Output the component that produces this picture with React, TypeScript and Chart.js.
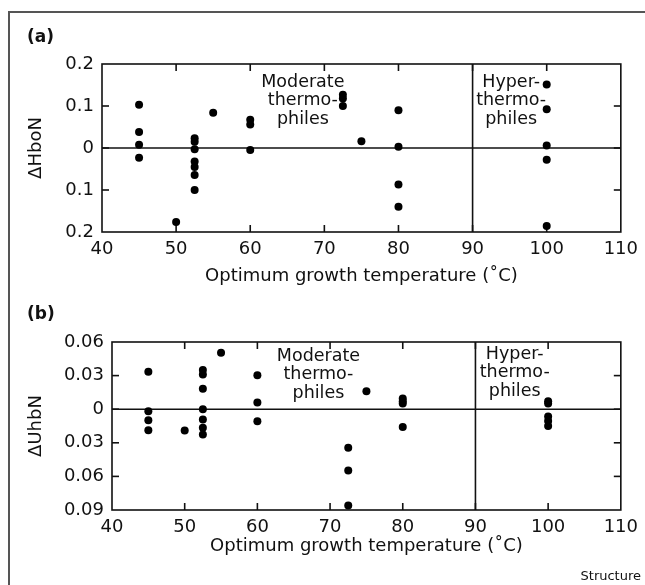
import React, { useEffect, useRef } from "react";
import { Chart, registerables } from "chart.js";

Chart.register(...registerables);

const FONT = "'DejaVu Sans', 'Liberation Sans', sans-serif";

// ---------- Data ----------
const xTicks = [40, 50, 60, 70, 80, 90, 100, 110];

// Panel (a)
const temperatureA = [
  45, 45, 45, 45,
  50,
  52.5, 52.5, 52.5, 52.5, 52.5, 52.5, 52.5,
  55,
  60, 60, 60,
  72.5, 72.5, 72.5,
  75,
  80, 80, 80, 80,
  100, 100, 100, 100, 100,
];
const deltaHboN = [
  0.103, 0.038, 0.008, -0.023,
  -0.176,
  0.023, 0.015, -0.003, -0.032, -0.045, -0.064, -0.1,
  0.084,
  0.067, 0.056, -0.005,
  0.127, 0.118, 0.1,
  0.016,
  0.09, 0.003, -0.087, -0.14,
  0.151, 0.092, 0.006, -0.028, -0.186,
];
const yTicksA = [-0.2, -0.1, 0, 0.1, 0.2];
const yTickLabelsA = ["0.2", "0.1", "0", "0.1", "0.2"];

// Panel (b)
const temperatureB = [
  45, 45, 45, 45,
  50,
  52.5, 52.5, 52.5, 52.5, 52.5, 52.5, 52.5,
  55,
  60, 60, 60,
  72.5, 72.5, 72.5,
  75,
  80, 80, 80, 80,
  100, 100, 100, 100, 100,
];
const deltaUhbN = [
  0.0334, -0.0018, -0.0098, -0.0188,
  -0.019,
  0.035, 0.031, 0.0182, 0.0, -0.0092, -0.0166, -0.0226,
  0.0504,
  0.0303, 0.006, -0.0108,
  -0.0344, -0.0547, -0.0859,
  0.0161,
  0.0096, 0.0072, 0.005, -0.016,
  0.007, 0.005, -0.0065, -0.0105, -0.015,
];
const yTicksB = [-0.09, -0.06, -0.03, 0, 0.03, 0.06];
const yTickLabelsB = ["0.09", "0.06", "0.03", "0", "0.03", "0.06"];

const xTitle = "Optimum growth temperature (\u02DAC)";
const groupLabels = [
  ["Moderate", "thermo-", "philes"],
  ["Hyper-", "thermo-", "philes"],
];

// ---------- Plugin ----------
const decorPlugin = {
  id: "decor",
  beforeDatasetsDraw(chart: any, _args: any, opts: any) {
    const { ctx, chartArea: a, scales } = chart;
    const x = scales.x;
    const y = scales.y;
    ctx.save();
    ctx.strokeStyle = "#111";
    ctx.lineWidth = 1.6;
    const line = (x1: number, y1: number, x2: number, y2: number) => {
      ctx.beginPath();
      ctx.moveTo(x1, y1);
      ctx.lineTo(x2, y2);
      ctx.stroke();
    };
    const TL = 7;
    x.ticks.forEach((t: any) => {
      if (t.value > x.min && t.value < x.max) {
        const px = x.getPixelForValue(t.value);
        line(px, a.top, px, a.top + TL);
        line(px, a.bottom, px, a.bottom - TL);
      }
    });
    y.ticks.forEach((t: any) => {
      if (t.value > y.min && t.value < y.max) {
        const py = y.getPixelForValue(t.value);
        line(a.left, py, a.left + TL, py);
        line(a.right, py, a.right - TL, py);
      }
    });
    const y0 = y.getPixelForValue(0);
    line(a.left, y0, a.right, y0);
    const xd = x.getPixelForValue(opts.divider);
    line(xd, a.top, xd, a.bottom);
    ctx.strokeRect(a.left, a.top, a.right - a.left, a.bottom - a.top);
    ctx.restore();
  },
  afterDraw(chart: any, _args: any, opts: any) {
    const { ctx, scales } = chart;
    const x = scales.x;
    const y = scales.y;
    ctx.save();
    ctx.fillStyle = "#111";
    ctx.textAlign = "center";
    ctx.textBaseline = "middle";
    ctx.font = `17.5px ${FONT}`;
    opts.notes.forEach((n: any) => {
      const px = x.getPixelForValue(n.x);
      const py = y.getPixelForValue(n.y);
      n.lines.forEach((s: string, i: number) => ctx.fillText(s, px, py + i * 18.5));
    });
    ctx.font = `bold 17px ${FONT}`;
    ctx.textAlign = "left";
    ctx.fillText(opts.label, opts.labelX, opts.labelY);
    if (opts.footer) {
      ctx.font = `13px ${FONT}`;
      ctx.textAlign = "right";
      ctx.fillText(opts.footer, chart.width - 4, chart.height - 8);
    }
    ctx.restore();
  },
};

function buildConfig(p: {
  xs: number[];
  ys: number[];
  yTicks: number[];
  yLabels: string[];
  yTitle: string;
  padTop: number;
  padRight: number;
  padBottom: number;
  yWidth: number;
  xHeight: number;
  notes: any[];
  label: string;
  labelY: number;
  footer?: string;
}) {
  return {
    type: "scatter" as const,
    data: {
      datasets: [
        {
          data: p.xs.map((v, i) => ({ x: v, y: p.ys[i] })),
          backgroundColor: "#000",
          borderWidth: 0,
          pointRadius: 4,
          pointHoverRadius: 4,
        },
      ],
    },
    options: {
      animation: false,
      responsive: false,
      events: [],
      layout: { padding: { top: p.padTop, right: p.padRight, bottom: p.padBottom, left: 0 } },
      plugins: {
        legend: { display: false },
        tooltip: { enabled: false },
        decor: {
          divider: 90,
          notes: p.notes,
          label: p.label,
          labelX: 27,
          labelY: p.labelY,
          footer: p.footer,
        },
      },
      scales: {
        x: {
          type: "linear",
          min: 40,
          max: 110,
          grid: { display: false, drawTicks: false },
          border: { display: false },
          afterBuildTicks: (s: any) => {
            s.ticks = xTicks.map((v) => ({ value: v }));
          },
          afterFit: (s: any) => {
            s.height = p.xHeight;
          },
          ticks: {
            autoSkip: false,
            maxRotation: 0,
            padding: 7,
            color: "#111",
            font: { family: FONT, size: 18 },
            callback: (_v: any, i: number) => String(xTicks[i]),
          },
          title: {
            display: true,
            text: xTitle,
            color: "#111",
            font: { family: FONT, size: 18 },
            padding: { top: 0, bottom: 0 },
          },
        },
        y: {
          type: "linear",
          min: p.yTicks[0],
          max: p.yTicks[p.yTicks.length - 1],
          grid: { display: false, drawTicks: false },
          border: { display: false },
          afterBuildTicks: (s: any) => {
            s.ticks = p.yTicks.map((v) => ({ value: v }));
          },
          afterFit: (s: any) => {
            s.width = p.yWidth;
          },
          ticks: {
            autoSkip: false,
            padding: 8,
            color: "#111",
            font: { family: FONT, size: 18 },
            callback: (_v: any, i: number) => p.yLabels[i],
          },
          title: {
            display: true,
            text: p.yTitle,
            color: "#111",
            font: { family: FONT, size: 18 },
            padding: { top: 26, bottom: 0 },
          },
        },
      },
    },
    plugins: [decorPlugin],
  };
}

export default function App() {
  const refA = useRef<HTMLCanvasElement | null>(null);
  const refB = useRef<HTMLCanvasElement | null>(null);

  useEffect(() => {
    document.body.style.margin = "0";
    const chartA = new Chart(
      refA.current as HTMLCanvasElement,
      buildConfig({
        xs: temperatureA,
        ys: deltaHboN,
        yTicks: yTicksA,
        yLabels: yTickLabelsA,
        yTitle: "\u0394HboN",
        padTop: 64,
        padRight: 24,
        padBottom: 0,
        yWidth: 102,
        xHeight: 55,
        notes: [
          { x: 67.1, y: 0.157, lines: groupLabels[0] },
          { x: 95.2, y: 0.157, lines: groupLabels[1] },
        ],
        label: "(a)",
        labelY: 38,
      }) as any
    );
    const chartB = new Chart(
      refB.current as HTMLCanvasElement,
      buildConfig({
        xs: temperatureB,
        ys: deltaUhbN,
        yTicks: yTicksB,
        yLabels: yTickLabelsB,
        yTitle: "\u0394UhbN",
        padTop: 50,
        padRight: 23,
        padBottom: 28,
        yWidth: 112,
        xHeight: 47,
        notes: [
          { x: 68.4, y: 0.0474, lines: groupLabels[0] },
          { x: 95.4, y: 0.049, lines: groupLabels[1] },
        ],
        label: "(b)",
        labelY: 23,
        footer: "Structure",
      }) as any
    );
    return () => {
      chartA.destroy();
      chartB.destroy();
    };
  }, []);

  return (
    <div
      style={{
        position: "fixed",
        left: 0,
        top: 0,
        width: 645,
        height: 585,
        overflow: "hidden",
        background: "#fff",
      }}
    >
      <div
        style={{
          position: "absolute",
          left: 8,
          top: 11,
          width: 1000,
          height: 1000,
          borderLeft: "2px solid #555",
          borderTop: "2px solid #555",
        }}
      />
      <canvas
        ref={refA}
        width={645}
        height={287}
        style={{ position: "absolute", left: 0, top: 0, width: 645, height: 287 }}
      />
      <canvas
        ref={refB}
        width={645}
        height={293}
        style={{ position: "absolute", left: 0, top: 292, width: 645, height: 293 }}
      />
    </div>
  );
}
